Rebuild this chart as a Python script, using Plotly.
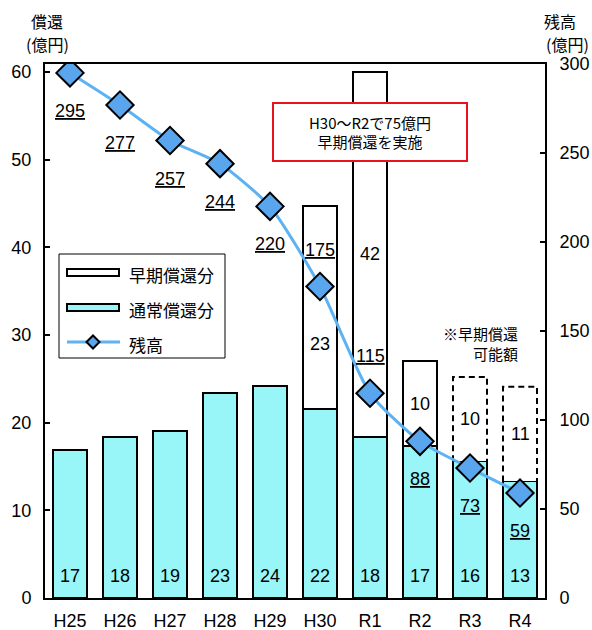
import plotly.graph_objects as go

# Fiscal years
years = ["H25", "H26", "H27", "H28", "H29", "H30", "R1", "R2", "R3", "R4"]
# Regular repayment (億円)
regular = [16.9, 18.4, 19.0, 23.4, 24.2, 21.5, 18.4, 17.3, 15.6, 13.3]
# Early repayment carried out (億円)
early = [None, None, None, None, None, 23.2, 41.6, 9.7, None, None]
# Early repayment possible (億円)
possible = [None, None, None, None, None, None, None, None, 9.6, 10.8]
# Outstanding balance (億円)
balance = [295, 277, 257, 244, 220, 175, 115, 88, 73, 59]

left_ticks = [0, 10, 20, 30, 40, 50, 60]
right_ticks = [0, 50, 100, 150, 200, 250, 300]

NUM_FONT = "Liberation Sans, Arial, Noto Sans CJK JP"
JP_FONT = "Noto Sans CJK JP, Liberation Sans"
CYAN = "#98F5F8"
LINE_BLUE = "#5CB2F2"
MARK_BLUE = "#5AA6EE"
BAR_W = 0.68
xs = list(range(len(years)))

# plot-area geometry in pixels, used to place paper-anchored decorations
W, H = 592, 630
ML, MR, MT, MB = 45, 47, 64, 32
PW, PH = W - ML - MR, H - MT - MB


def px(x):
    return (x - ML) / PW


def py(y):
    return (H - MB - y) / PH


fig = go.Figure()

fig.add_trace(go.Bar(
    x=xs, y=regular, width=BAR_W, name="通常償還分",
    marker=dict(color=CYAN, line=dict(color="black", width=2)),
))
fig.add_trace(go.Bar(
    x=xs, y=early, width=BAR_W, name="早期償還分",
    marker=dict(color="white", line=dict(color="black", width=2)),
))
fig.add_trace(go.Bar(
    x=xs, y=possible, width=BAR_W, name="早期償還可能額",
    marker=dict(color="white", line=dict(color="white", width=0)),
))

# Dashed outlines for the possible early repayment
for i, v in enumerate(possible):
    if v is None:
        continue
    x0, x1 = i - BAR_W / 2, i + BAR_W / 2
    y0, y1 = regular[i], regular[i] + v
    fig.add_trace(go.Scatter(
        x=[x0, x0, x1, x1], y=[y0, y1, y1, y0], mode="lines",
        line=dict(color="black", width=2, dash="6px,4px"),
        hoverinfo="skip",
    ))

fig.add_trace(go.Scatter(
    x=xs, y=balance, yaxis="y2", name="残高", mode="lines+markers",
    line=dict(color=LINE_BLUE, width=3, shape="spline", smoothing=0.6),
    marker=dict(symbol="diamond", size=21, color=MARK_BLUE,
                line=dict(color="black", width=2)),
))

annotations = []
# Regular repayment labels near the bar bottom
for i, v in enumerate(regular):
    annotations.append(dict(
        x=i, y=0, xref="x", yref="y", text=f"{v:.0f}", showarrow=False,
        yshift=22, font=dict(family=NUM_FONT, size=18, color="black"),
    ))
# Early repayment labels in the middle of the upper segment
for seg in (early, possible):
    for i, v in enumerate(seg):
        if v is None:
            continue
        shift = -36 if i == 5 else 0
        annotations.append(dict(
            x=i, y=regular[i] + v / 2, xref="x", yref="y", text=f"{v:.0f}",
            showarrow=False, yshift=shift,
            font=dict(family=NUM_FONT, size=18, color="black"),
        ))
# Balance labels, underlined
above = {5, 6}
for i, v in enumerate(balance):
    annotations.append(dict(
        x=i, y=v, xref="x", yref="y2",
        text=f"<span style='text-decoration:underline'>{v}</span>",
        showarrow=False, yshift=37 if i in above else -38,
        font=dict(family=NUM_FONT, size=18, color="black"),
    ))

# Axis unit titles
unit_font = dict(family=JP_FONT, size=16, color="black")
for x, y, t in [(47, 21, "償還"), (47, 44, "(億円)"),
                (560, 21, "残高"), (567, 44, "(億円)")]:
    annotations.append(dict(
        x=px(x), y=py(y), xref="paper", yref="paper", text=t,
        showarrow=False, xanchor="center", yanchor="middle", font=unit_font,
    ))

# Callout box
annotations.append(dict(
    x=px(370), y=py(132), xref="paper", yref="paper",
    xanchor="center", yanchor="middle",
    text="H30～R2で75億円<br>早期償還を実施", showarrow=False,
    width=188, height=52, align="center", bgcolor="white",
    bordercolor="#E8141B", borderwidth=2, borderpad=2,
    font=dict(family=JP_FONT, size=15, color="black"),
))
# Note on the dashed bars
annotations.append(dict(
    x=px(520), y=py(343), xref="paper", yref="paper",
    xanchor="right", yanchor="middle",
    text="※早期償還<br>可能額", showarrow=False, align="right",
    font=dict(family=JP_FONT, size=15, color="black"),
))

# Legend box drawn with shapes and text
shapes = [
    dict(type="rect", xref="paper", yref="paper",
         x0=px(59), x1=px(225), y0=py(358), y1=py(254),
         line=dict(color="black", width=1), fillcolor="white", layer="above"),
    dict(type="rect", xref="paper", yref="paper",
         x0=px(67), x1=px(119), y0=py(276), y1=py(269),
         line=dict(color="black", width=2), fillcolor="white", layer="above"),
    dict(type="rect", xref="paper", yref="paper",
         x0=px(67), x1=px(119), y0=py(311), y1=py(304),
         line=dict(color="black", width=2), fillcolor=CYAN, layer="above"),
    dict(type="line", xref="paper", yref="paper",
         x0=px(67), x1=px(120), y0=py(342), y1=py(342),
         line=dict(color=LINE_BLUE, width=3), layer="above"),
]
cx, cy, r = 93, 342, 6.5
shapes.append(dict(
    type="path", xref="paper", yref="paper", layer="above",
    path=(f"M {px(cx - r)} {py(cy)} L {px(cx)} {py(cy - r)} "
          f"L {px(cx + r)} {py(cy)} L {px(cx)} {py(cy + r)} Z"),
    line=dict(color="black", width=2), fillcolor=MARK_BLUE,
))
for y, t in [(274, "早期償還分"), (309, "通常償還分"), (344, "残高")]:
    annotations.append(dict(
        x=px(127), y=py(y), xref="paper", yref="paper", text=t,
        showarrow=False, xanchor="left", yanchor="middle",
        font=dict(family=JP_FONT, size=17, color="black"),
    ))

tick_font = dict(family=NUM_FONT, size=18, color="black")
fig.update_layout(
    width=W, height=H,
    margin=dict(l=ML, r=MR, t=MT, b=MB, autoexpand=False),
    paper_bgcolor="white", plot_bgcolor="white",
    barmode="stack",
    showlegend=False,
    xaxis=dict(
        range=[-0.5, len(years) - 0.5], tickvals=xs, ticktext=years,
        showline=True, linecolor="black", linewidth=2, mirror=True,
        showgrid=False, zeroline=False, ticks="", ticklabelstandoff=5,
        tickfont=tick_font, automargin=False,
    ),
    yaxis=dict(
        range=[0, 60.9], tickvals=left_ticks, showgrid=False, zeroline=False,
        showline=True, linecolor="black", linewidth=2,
        ticks="inside", ticklen=5, tickcolor="black", tickwidth=2,
        ticklabelstandoff=8, tickfont=tick_font, automargin=False,
    ),
    yaxis2=dict(
        range=[0, 300], tickvals=right_ticks, overlaying="y", side="right",
        showgrid=False, zeroline=False,
        showline=True, linecolor="black", linewidth=2,
        ticks="inside", ticklen=5, tickcolor="black", tickwidth=2,
        ticklabelstandoff=9, tickfont=tick_font, automargin=False,
    ),
    annotations=annotations,
    shapes=shapes,
)

fig.write_html("out.html")
